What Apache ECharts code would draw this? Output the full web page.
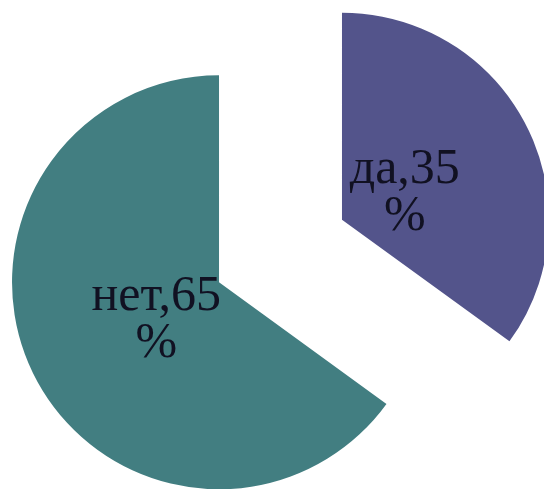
<!DOCTYPE html>
<html><head><meta charset="utf-8">
<script src="https://cdn.jsdelivr.net/npm/echarts@6/dist/echarts.min.js"></script>
<style>html,body{margin:0;padding:0;background:#fff}#c{width:544px;height:489px}</style>
</head><body><div id="c"></div>
<script>
var categories = ['да', 'нет'];
var values = [35, 65];
var colors = ['#53548B', '#427E81'];

var R = 207, OFF = 69, LABEL_PULL = 36, LABEL_DROP = 6;
var total = values.reduce(function(a,b){return a+b;},0);
var acc = 0;
var shifts = values.map(function(v){
  var mid = (acc + v/2) / total * 2 * Math.PI; acc += v;
  return [-Math.sin(mid) * LABEL_PULL, Math.cos(mid) * LABEL_PULL + LABEL_DROP];
});

var chart = echarts.init(document.getElementById('c'), null, {renderer:'canvas'});
chart.setOption({
  animation: false,
  series: [{
    type: 'pie',
    center: [280.5, 251],
    radius: [0, R],
    startAngle: 90,
    clockwise: true,
    selectedMode: 'multiple',
    selectedOffset: OFF,
    emphasis: {disabled: true},
    itemStyle: {borderWidth: 0},
    label: {
      show: true,
      position: 'inside',
      formatter: '{b},{c}\n%',
      fontFamily: 'Liberation Serif',
      fontSize: 50,
      lineHeight: 47,
      color: '#111122',
      align: 'center'
    },
    labelLine: {show: false},
    labelLayout: function(p){ var s = shifts[p.dataIndex]; return {dx: s[0], dy: s[1]}; },
    data: categories.map(function(c,i){
      return {name: c, value: values[i], selected: true, itemStyle: {color: colors[i]}};
    })
  }]
});
</script></body></html>
